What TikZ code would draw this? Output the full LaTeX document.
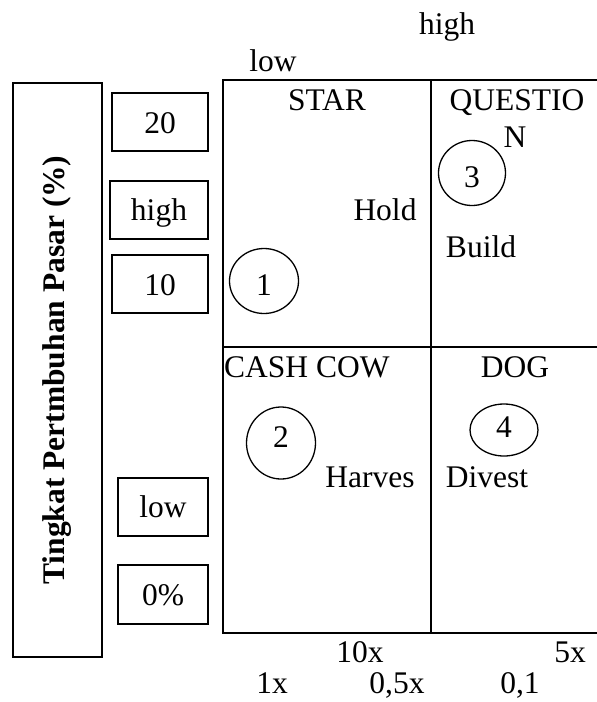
\documentclass[tikz,border=0pt]{standalone}
\usepackage{fontspec}
\setmainfont{Liberation Serif}
\usetikzlibrary{shapes.geometric}
\begin{document}
\begin{tikzpicture}[x=1pt,y=-1pt,
  every node/.style={font=\fontsize{31.5}{36}\selectfont},
  lbl/.style={inner sep=0pt,anchor=base},
  boxed/.style={draw,line width=1.6pt,inner sep=0pt},
  grid/.style={line width=2pt},
  blob/.style={draw,ellipse,line width=1.3pt,inner sep=0pt}]
\useasboundingbox (0,0) rectangle (597,702);

% axis title box
\node[boxed,minimum width=89,minimum height=574] (ytitle) at (57.5,370) {};
\node[rotate=90,inner sep=0pt,font=\fontsize{31.5}{36}\selectfont\bfseries] (ytext) at (ytitle.center) {Tingkat Pertmbuhan Pasar (\%)};

% growth scale boxes
\node[boxed,minimum width=96,minimum height=58] (b20) at (160,122) {};
\node[lbl] at (160,133) {20};
\node[boxed,minimum width=98,minimum height=58] (bhigh) at (159,210) {};
\node[lbl] at (159,220) {high};
\node[boxed,minimum width=96,minimum height=58] (b10) at (160,284) {};
\node[lbl] at (160,295) {10};
\node[boxed,minimum width=90,minimum height=58] (blow) at (163,507) {};
\node[lbl] at (163,517) {low};
\node[boxed,minimum width=90,minimum height=59] (b0) at (163,594.5) {};
\node[lbl] at (163,605) {0\%};

% matrix frame
\coordinate (tl) at (223,80);
\coordinate (tr) at (597,80);
\coordinate (bl) at (223,633);
\coordinate (br) at (597,633);
\coordinate (mt) at (431,80);
\coordinate (mb) at (431,633);
\coordinate (ml) at (223,347);
\coordinate (mr) at (597,347);
\draw[grid] (tr) -- (tl) -- (bl) -- (br);
\draw[grid] (mt) -- (mb);
\draw[grid] (ml) -- (mr);

% top scale
\node[lbl] (thigh) at (447,34) {high};
\node[lbl] (tlow) at (273,71) {low};

% quadrant titles and strategies
\node[lbl] (star) at (327,110) {STAR};
\node[lbl] (quest) at (517,110) {QUESTIO};
\node[lbl] (questn) at (515,147) {N};
\node[lbl] (hold) at (385,220) {Hold};
\node[lbl] (build) at (481,257) {Build};
\node[lbl,anchor=base west] (cash) at (224,377) {CASH COW};
\node[lbl] (dog) at (515,377) {DOG};
\node[lbl] (harv) at (370,487) {Harves};
\node[lbl] (divest) at (487,487) {Divest};

% positions
\node[blob,minimum width=69,minimum height=65] (c1) at (264,281) {};
\node[lbl] at (264,295) {1};
\node[blob,minimum width=69,minimum height=72] (c2) at (281,443) {};
\node[lbl] at (281,447) {2};
\node[blob,minimum width=67,minimum height=65] (c3) at (472,173) {};
\node[lbl] at (472,187) {3};
\node[blob,minimum width=68,minimum height=52] (c4) at (504,430) {};
\node[lbl] at (504,437) {4};

% bottom scale
\node[lbl] (x10) at (360,662) {10x};
\node[lbl] (x5) at (570,662) {5x};
\node[lbl] (x1) at (272,693) {1x};
\node[lbl] (x05) at (397,693) {0,5x};
\node[lbl] (x01) at (520,693) {0,1};
\end{tikzpicture}
\end{document}
